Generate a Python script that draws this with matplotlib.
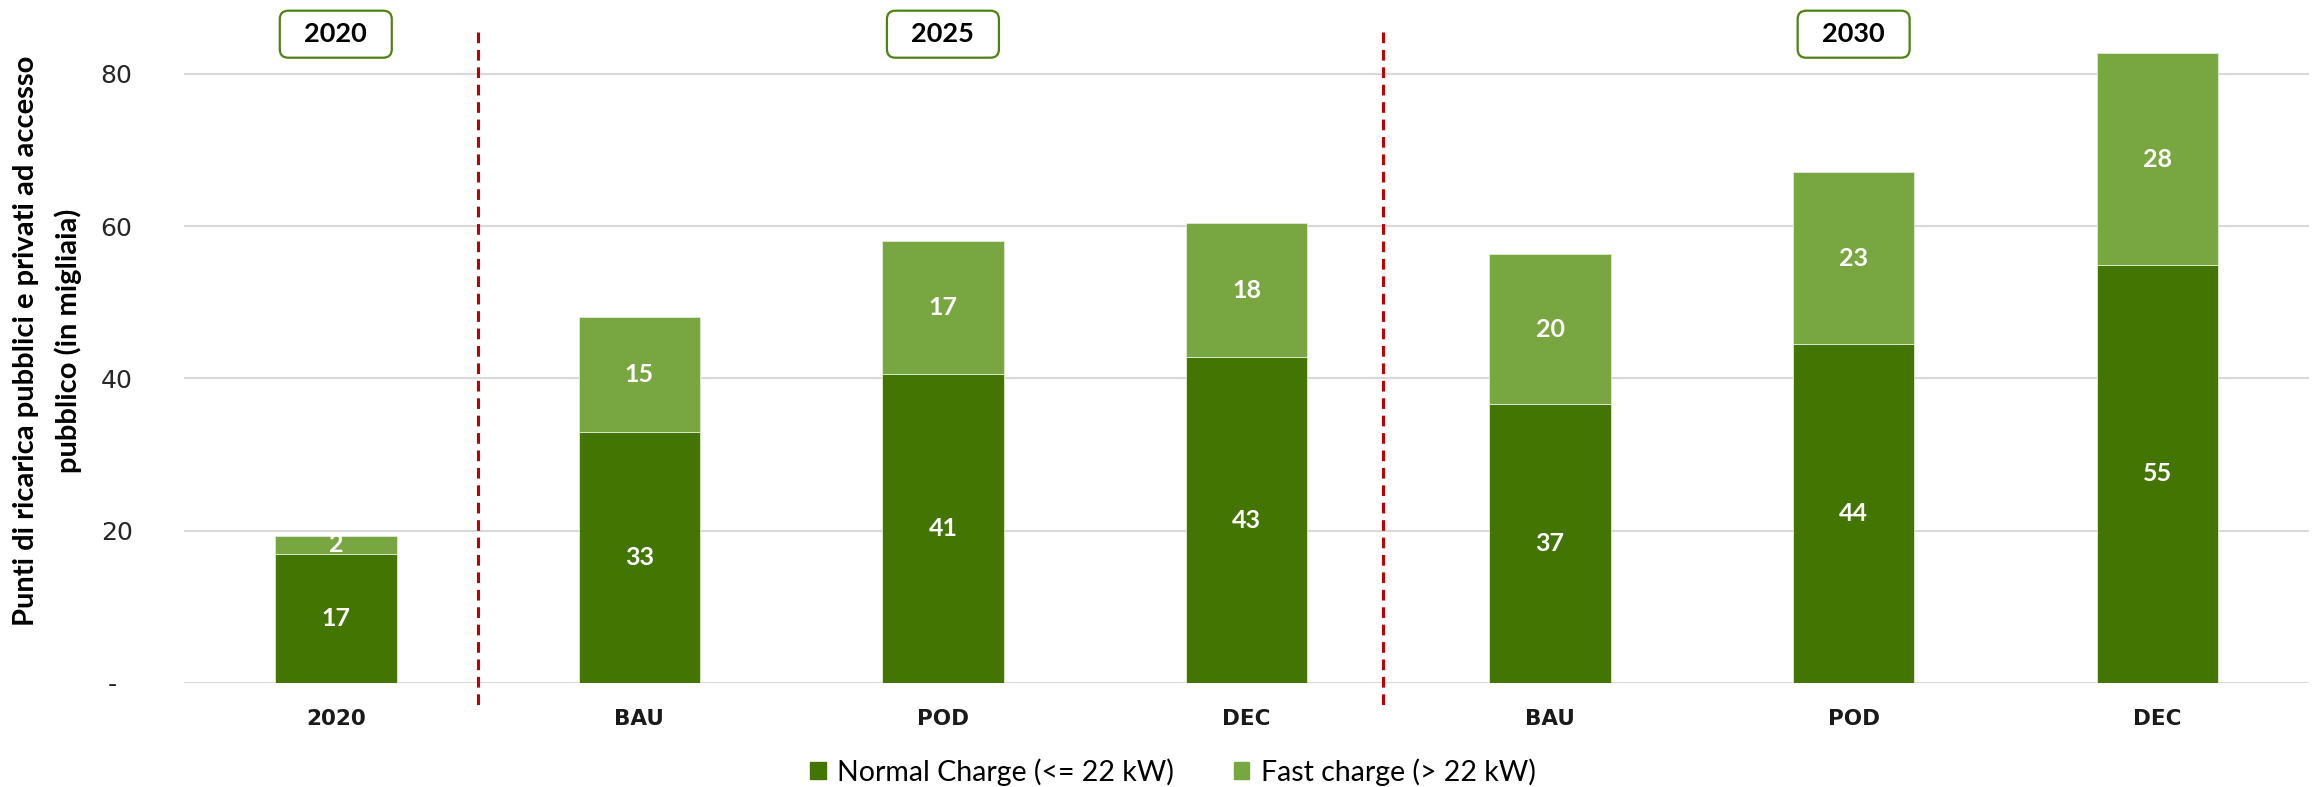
import matplotlib.pyplot as plt
from matplotlib.patches import Patch, FancyBboxPatch

categories = ['2020', 'BAU', 'POD', 'DEC', 'BAU', 'POD', 'DEC']
normal = [17.0, 33.0, 40.6, 42.8, 36.6, 44.5, 54.9]
fast = [2.3, 15.1, 17.4, 17.6, 19.7, 22.6, 27.8]
normal_labels = ['17', '33', '41', '43', '37', '44', '55']
fast_labels = ['2', '15', '17', '18', '20', '23', '28']
yticks = [0, 20, 40, 60, 80]
ytick_labels = ['-\u2007', '20', '40', '60', '80']
year_labels = ['2020', '2025', '2030']
year_pos = [0, 2, 5]
separators = [0.47, 3.45]

dark = '#427502'
light = '#78a640'
box_edge = '#4f8213'
calibri_like = ['Lato', 'DejaVu Sans']

W, H = 2313, 787
fig = plt.figure(figsize=(W / 100, H / 100), dpi=100)
ax = fig.add_axes([184 / W, 1 - 683 / H, (2309 - 184) / W, 683 / H])

x = list(range(len(categories)))
ax.bar(x, normal, width=0.4, color=dark, edgecolor='#e3ead8', linewidth=0.6, zorder=3)
ax.bar(x, fast, width=0.4, bottom=normal, color=light, edgecolor='#e3ead8', linewidth=0.6, zorder=3)

for i in x:
    ax.text(i, normal[i] / 2, normal_labels[i], ha='center', va='center', color='white',
            fontsize=18, fontweight='bold', family=calibri_like, zorder=4)
    ax.text(i, normal[i] + fast[i] / 2, fast_labels[i], ha='center', va='center', color='white',
            fontsize=18, fontweight='bold', family=calibri_like, zorder=4)

ax.set_xlim(-0.5, 6.5)
ax.set_ylim(0, 683 / 7.615)
ax.set_yticks(yticks)
ax.set_yticklabels(ytick_labels)
ax.set_xticks(x)
ax.set_xticklabels(categories, fontweight='bold')
ax.tick_params(axis='y', length=0, pad=37, labelsize=18, labelcolor='#262626')
ax.tick_params(axis='x', length=0, pad=19, labelsize=15.5, labelcolor='#1a1a1a')
for s in ax.spines.values():
    s.set_visible(False)
ax.yaxis.grid(True, color='#d9d9d9', linewidth=1.5, zorder=0)
ax.set_axisbelow(True)

# red dashed separators between periods
for sx in separators:
    ax.plot([sx, sx], [85.5, -3.15], color='#c00000', linewidth=2.2,
            dashes=(3.5, 2.2), clip_on=False, zorder=2)

# year boxes on top
bw = 112 / 303.6
bh = 47 / 7.615
for lab, px in zip(year_labels, year_pos):
    box = FancyBboxPatch((px - bw / 2, 85.2 - bh / 2), bw, bh,
                         boxstyle='round,pad=0,rounding_size=0.028',
                         mutation_aspect=303.6 / 7.615,
                         fc='white', ec=box_edge, lw=1.6, clip_on=False, zorder=5)
    ax.add_patch(box)
    ax.text(px, 85.2, lab, ha='center', va='center', fontsize=19.5, fontweight='bold',
            family=calibri_like, color='black', zorder=6)

fig.text(47.5 / W, 1 - 341 / H,
         'Punti di ricarica pubblici e privati ad accesso\npubblico (in migliaia)',
         rotation=90, ha='center', va='center', multialignment='center',
         fontsize=21, fontweight='bold', family=calibri_like, linespacing=1.65)

handles = [Patch(color=dark, label='Normal Charge (<= 22 kW)'),
           Patch(color=light, label='Fast charge (> 22 kW)')]
fig.legend(handles=handles, loc='center', bbox_to_anchor=(0.507, 1 - 772 / H), ncol=2,
           frameon=False, prop={'family': calibri_like, 'size': 20.5},
           handlelength=0.55, handleheight=0.55, handletextpad=0.4, columnspacing=2.1)

fig.savefig('out.png', dpi=100)
